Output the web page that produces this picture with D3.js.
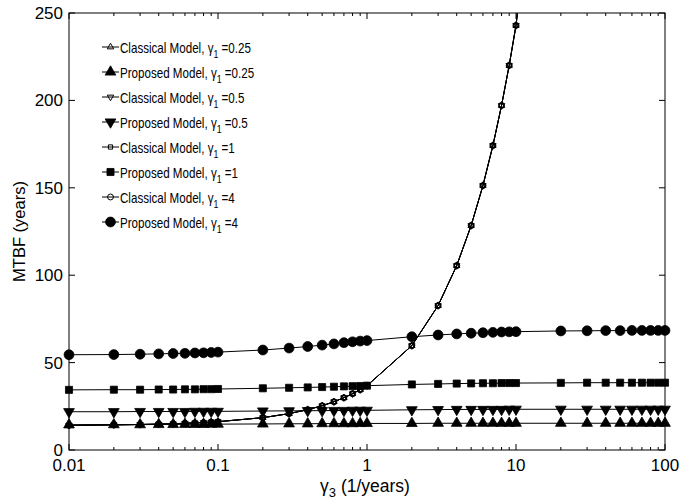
<!DOCTYPE html>
<html>
<head>
<meta charset="utf-8">
<script src="https://cdn.jsdelivr.net/npm/d3@7"></script>
<style>
  html, body { margin: 0; padding: 0; background: #fff; }
  svg text { font-family: "Liberation Sans", Arial, sans-serif; fill: #000; }
</style>
</head>
<body>
<svg id="chart" width="683" height="502"></svg>
<script>
// failure-rate grid gamma_3 (1/years)
const gamma3 = [0.01, 0.02, 0.03, 0.04, 0.05, 0.06, 0.07, 0.08, 0.09, 0.1,
                0.2, 0.3, 0.4, 0.5, 0.6, 0.7, 0.8, 0.9, 1,
                2, 3, 4, 5, 6, 7, 8, 9, 10,
                20, 30, 40, 50, 60, 70, 80, 90, 100];

// classical model MTBF (years); identical for every gamma_1
const classicalMTBF = [14.1, 14.4, 14.6, 14.8, 15.0, 15.3, 15.5, 15.7, 16.0, 16.2,
                       18.5, 20.8, 23.1, 25.3, 27.6, 29.9, 32.2, 34.5, 36.8,
                       59.7, 82.6, 105.5, 128.4, 151.3, 174.2, 197.1, 220.0, 242.9,
                       472, 701, 930, 1159, 1388, 1617, 1846, 2075, 2304];

// proposed model MTBF (years)
const proposed025 = [14.4, 14.5, 14.5, 14.6, 14.6, 14.7, 14.7, 14.7, 14.8, 14.8,
                     14.9, 15.0, 15.0, 15.1, 15.1, 15.1, 15.1, 15.2, 15.2,
                     15.2, 15.3, 15.3, 15.3, 15.3, 15.3, 15.3, 15.3, 15.3,
                     15.3, 15.3, 15.3, 15.3, 15.3, 15.3, 15.3, 15.3, 15.3];
const proposed05 = [21.9, 21.9, 22.0, 22.0, 22.0, 22.0, 22.1, 22.1, 22.1, 22.1,
                    22.3, 22.4, 22.5, 22.5, 22.6, 22.6, 22.7, 22.7, 22.7,
                    23.0, 23.1, 23.2, 23.2, 23.2, 23.2, 23.2, 23.3, 23.3,
                    23.3, 23.3, 23.3, 23.3, 23.3, 23.3, 23.3, 23.3, 23.3];
const proposed1 = [34.4, 34.5, 34.5, 34.6, 34.6, 34.7, 34.7, 34.8, 34.8, 34.9,
                   35.3, 35.6, 35.8, 36.0, 36.2, 36.4, 36.5, 36.6, 36.8,
                   37.5, 37.8, 38.0, 38.1, 38.2, 38.2, 38.3, 38.3, 38.3,
                   38.4, 38.5, 38.5, 38.5, 38.5, 38.5, 38.5, 38.5, 38.5];
const proposed4 = [54.5, 54.6, 54.8, 55.0, 55.2, 55.3, 55.5, 55.6, 55.8, 56.0,
                   57.2, 58.3, 59.2, 60.0, 60.7, 61.4, 61.9, 62.3, 62.6,
                   64.8, 65.8, 66.4, 66.8, 67.1, 67.3, 67.5, 67.6, 67.7,
                   68.1, 68.2, 68.3, 68.3, 68.4, 68.4, 68.4, 68.4, 68.4];

// axis ticks
const xTickValues = [0.01, 0.1, 1, 10, 100];
const xTickLabels = ["0.01", "0.1", "1", "10", "100"];
const yTickValues = [0, 50, 100, 150, 200, 250];

// legend entries in plotting order
const seriesNames = [
  { model: "Classical Model", g1: "0.25" },
  { model: "Proposed Model",  g1: "0.25" },
  { model: "Classical Model", g1: "0.5" },
  { model: "Proposed Model",  g1: "0.5" },
  { model: "Classical Model", g1: "1" },
  { model: "Proposed Model",  g1: "1" },
  { model: "Classical Model", g1: "4" },
  { model: "Proposed Model",  g1: "4" }
];
const seriesValues = [classicalMTBF, proposed025, classicalMTBF, proposed05,
                      classicalMTBF, proposed1, classicalMTBF, proposed4];
const seriesMarkers = ["triUp", "triUp", "triDown", "triDown", "square", "square", "circle", "circle"];
const seriesFilled = [false, true, false, true, false, true, false, true];

const svg = d3.select("#chart");
const margin = { left: 69, top: 13, right: 18, bottom: 52 };
const W = 683 - margin.left - margin.right;
const H = 502 - margin.top - margin.bottom;

const x = d3.scaleLog().domain([0.01, 100]).range([0, W]);
const y = d3.scaleLinear().domain([0, 250]).range([H, 0]);

const g = svg.append("g").attr("transform", `translate(${margin.left},${margin.top})`);

g.append("clipPath").attr("id", "plotClip")
  .append("rect").attr("x", 0).attr("y", 0).attr("width", W).attr("height", H);

// marker shapes
function markerPath(kind, filled) {
  const s = filled ? 1 : 0.6;
  switch (kind) {
    case "triUp":   return d3.symbol(d3.symbolTriangle, 50 * s * s)();
    case "triDown": return d3.symbol(d3.symbolTriangle, 50 * s * s)();
    case "square":  return d3.symbol(d3.symbolSquare, 50 * s * s)();
    case "circle":  return d3.symbol(d3.symbolCircle, 76 * s * s)();
  }
}
function markerTransform(kind, px, py) {
  return kind === "triDown" ? `translate(${px},${py}) rotate(180)` : `translate(${px},${py})`;
}

const line = d3.line().x((d, i) => x(gamma3[i])).y(d => y(d));

seriesValues.forEach((vals, k) => {
  const sg = g.append("g");
  sg.append("path")
    .attr("d", line(vals))
    .attr("clip-path", "url(#plotClip)")
    .attr("fill", "none")
    .attr("stroke", "#000")
    .attr("stroke-width", 1);
  const pts = vals.map((v, i) => [gamma3[i], v]).filter(p => p[1] <= 250);
  sg.selectAll("path.m").data(pts).enter().append("path")
    .attr("class", "m")
    .attr("d", markerPath(seriesMarkers[k], seriesFilled[k]))
    .attr("transform", p => markerTransform(seriesMarkers[k], x(p[0]), y(p[1])))
    .attr("fill", seriesFilled[k] ? "#000" : "none")
    .attr("stroke", "#000")
    .attr("stroke-width", seriesFilled[k] ? 0.8 : 1);
});

// frame
g.append("rect").attr("x", 0).attr("y", 0).attr("width", W).attr("height", H)
  .attr("fill", "none").attr("stroke", "#000").attr("stroke-width", 1);

// x ticks (inward, major + minor, bottom and top)
const minorX = [];
[0.01, 0.1, 1, 10].forEach(d => { for (let m = 2; m <= 9; m++) minorX.push(d * m); });
const tickG = g.append("g").attr("stroke", "#000").attr("stroke-width", 1);
xTickValues.forEach(v => {
  tickG.append("line").attr("x1", x(v)).attr("x2", x(v)).attr("y1", H).attr("y2", H - 6);
  tickG.append("line").attr("x1", x(v)).attr("x2", x(v)).attr("y1", 0).attr("y2", 6);
});
minorX.forEach(v => {
  tickG.append("line").attr("x1", x(v)).attr("x2", x(v)).attr("y1", H).attr("y2", H - 3);
  tickG.append("line").attr("x1", x(v)).attr("x2", x(v)).attr("y1", 0).attr("y2", 3);
});
yTickValues.forEach(v => {
  tickG.append("line").attr("x1", 0).attr("x2", 6).attr("y1", y(v)).attr("y2", y(v));
  tickG.append("line").attr("x1", W).attr("x2", W - 6).attr("y1", y(v)).attr("y2", y(v));
});

// tick labels
g.append("g").selectAll("text").data(xTickValues).enter().append("text")
  .attr("x", d => x(d)).attr("y", H + 21)
  .attr("text-anchor", "middle").attr("font-size", 17)
  .text((d, i) => xTickLabels[i]);
g.append("g").selectAll("text").data(yTickValues).enter().append("text")
  .attr("x", -6).attr("y", d => y(d) + 6)
  .attr("text-anchor", "end").attr("font-size", 17)
  .text(d => d);

// axis titles
const xt = g.append("text").attr("x", W / 2 - 2).attr("y", H + 42)
  .attr("text-anchor", "middle").attr("font-size", 17.5);
xt.append("tspan").text("γ");
xt.append("tspan").attr("dy", 5).attr("font-size", 13).text("3");
xt.append("tspan").attr("dy", -5).text(" (1/years)");

g.append("text")
  .attr("transform", `translate(${-44},${H / 2}) rotate(-90)`)
  .attr("text-anchor", "middle").attr("font-size", 16.5)
  .text("MTBF (years)");

// legend
const leg = g.append("g").attr("transform", "translate(33,34)");
seriesNames.forEach((s, k) => {
  const row = leg.append("g").attr("transform", `translate(0,${k * 25})`);
  row.append("line").attr("x1", 0).attr("x2", 17).attr("y1", 0).attr("y2", 0)
    .attr("stroke", "#000").attr("stroke-width", 1);
  row.append("path")
    .attr("d", markerPath(seriesMarkers[k], seriesFilled[k]))
    .attr("transform", markerTransform(seriesMarkers[k], 8.5, 0))
    .attr("fill", seriesFilled[k] ? "#000" : "none")
    .attr("stroke", "#000").attr("stroke-width", seriesFilled[k] ? 0.8 : 1);
  const t = row.append("text")
    .attr("transform", "translate(18,5.5) scale(0.8,1)")
    .attr("font-size", 14.5);
  t.append("tspan").text(s.model + ", γ");
  t.append("tspan").attr("dy", 5).attr("font-size", 11).text("1");
  t.append("tspan").attr("dy", -5).text(" =" + s.g1);
});
</script>
</body>
</html>
